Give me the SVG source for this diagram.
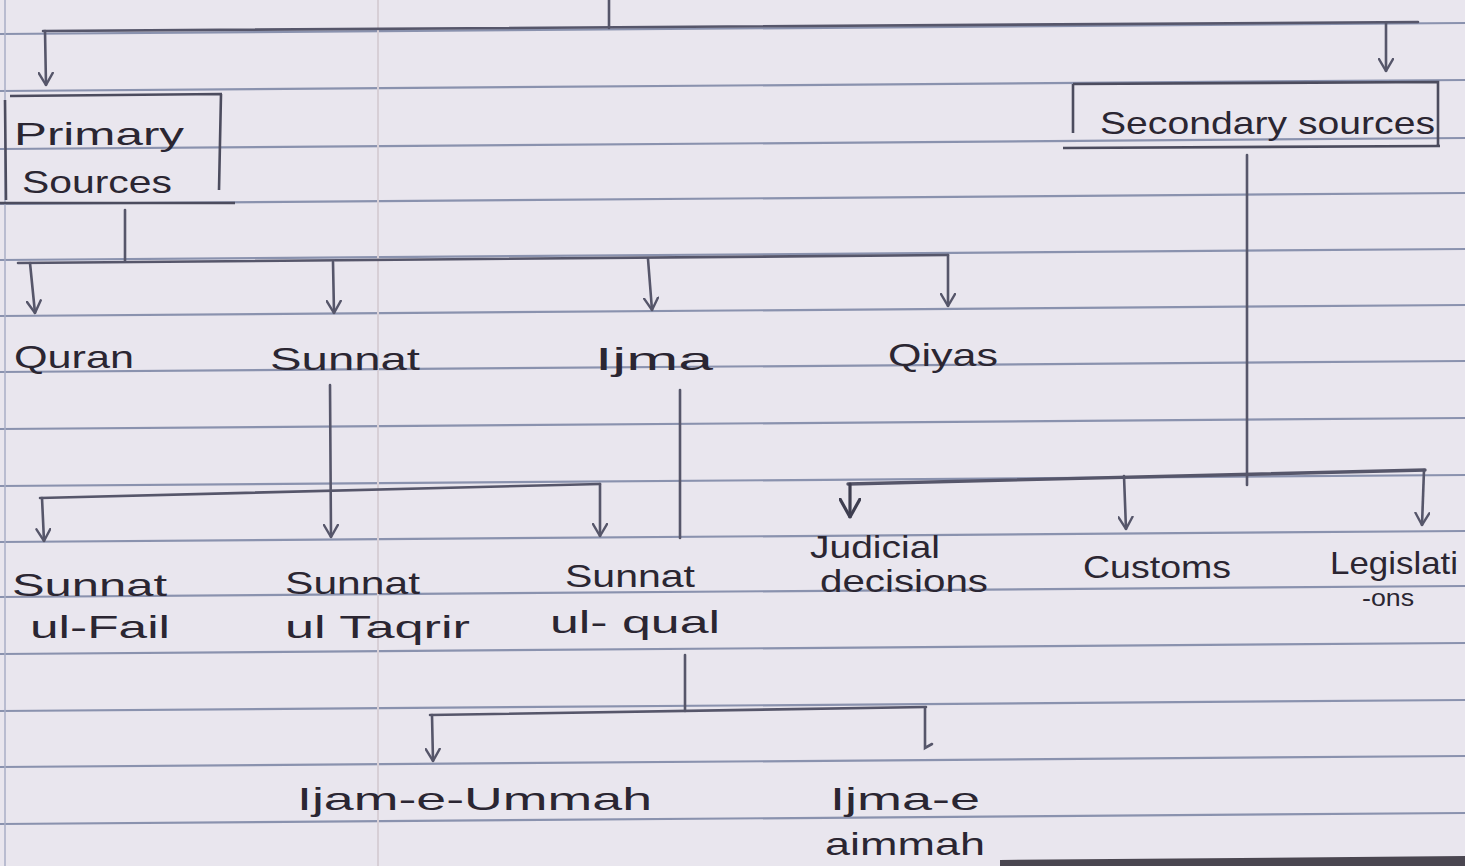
<svg xmlns="http://www.w3.org/2000/svg" width="1465" height="866" viewBox="0 0 1465 866">
<style>
.paper{fill:#e9e6ee}
.rule{stroke:#8a92ae;stroke-width:2.2;fill:none}
.margin{stroke:#a9aec6;stroke-width:1.5}
.margin2{stroke:#d7cfd6;stroke-width:2}
.c{stroke:#56566a;stroke-width:2.6;fill:none;stroke-linecap:round}
.a{stroke:#56566a;stroke-width:2.6;fill:none;stroke-linecap:round;marker-end:url(#ah)}
.ab{stroke:#3e3e50;stroke-width:3.2;fill:none;stroke-linecap:round;marker-end:url(#ahb)}
.box{stroke:#4c4c5e;stroke-width:2.6;fill:none}
.t{font-family:"Liberation Sans",Arial,sans-serif;font-size:32px;fill:#2b2632}
</style>
<defs>
<marker id="ah" viewBox="0 0 14 16" refX="13" refY="8" markerWidth="14" markerHeight="16" markerUnits="userSpaceOnUse" orient="auto">
<path d="M1,1 L13,8 L1,15" fill="none" stroke="#56566a" stroke-width="2.4" stroke-linecap="round"/>
</marker>
<marker id="ahb" viewBox="0 0 20 22" refX="19" refY="11" markerWidth="20" markerHeight="22" markerUnits="userSpaceOnUse" orient="auto">
<path d="M1,1 L19,11 L1,21" fill="none" stroke="#3e3e50" stroke-width="3.2" stroke-linecap="round"/>
</marker>
</defs>
<rect class="paper" x="0" y="0" width="1465" height="866"/>
<g id="paper-lines">
<line class="rule" x1="0" y1="34" x2="1465" y2="23"/>
<line class="rule" x1="0" y1="91" x2="1465" y2="80"/>
<line class="rule" x1="0" y1="149" x2="1465" y2="138"/>
<line class="rule" x1="0" y1="204" x2="1465" y2="193"/>
<line class="rule" x1="0" y1="260" x2="1465" y2="249"/>
<line class="rule" x1="0" y1="316" x2="1465" y2="305"/>
<line class="rule" x1="0" y1="372" x2="1465" y2="361"/>
<line class="rule" x1="0" y1="429" x2="1465" y2="418"/>
<line class="rule" x1="0" y1="486" x2="1465" y2="475"/>
<line class="rule" x1="0" y1="542" x2="1465" y2="531"/>
<line class="rule" x1="0" y1="597" x2="1465" y2="586"/>
<line class="rule" x1="0" y1="654" x2="1465" y2="643"/>
<line class="rule" x1="0" y1="711" x2="1465" y2="700"/>
<line class="rule" x1="0" y1="767" x2="1465" y2="756"/>
<line class="rule" x1="0" y1="824" x2="1465" y2="813"/>
<line class="margin" x1="5" y1="0" x2="5" y2="866"/>
<line class="margin2" x1="378" y1="0" x2="378" y2="866"/>
<path d="M1000,860 L1465,856 L1465,866 L1000,866 Z" fill="#4a4650"/>
</g>
<g id="connectors">
<line class="c" x1="609" y1="0" x2="609" y2="28"/>
<line class="c" x1="43" y1="31" x2="1418" y2="22"/>
<line class="a" x1="45" y1="31" x2="46" y2="85"/>
<line class="a" x1="1386" y1="23" x2="1386" y2="71"/>
<line class="c" x1="125" y1="210" x2="125" y2="261"/>
<line class="c" x1="18" y1="263" x2="948" y2="255"/>
<line class="a" x1="30" y1="263" x2="35" y2="313"/>
<line class="a" x1="333" y1="262" x2="334" y2="313"/>
<line class="a" x1="648" y1="259" x2="652" y2="310"/>
<line class="a" x1="948" y1="255" x2="948" y2="306"/>
<line class="a" x1="330" y1="385" x2="331" y2="537"/>
<line class="c" x1="40" y1="498" x2="600" y2="484"/>
<line class="a" x1="42" y1="498" x2="44" y2="541"/>
<line class="a" x1="600" y1="484" x2="600" y2="536"/>
<line class="c" x1="680" y1="390" x2="680" y2="538"/>
<line class="c" x1="685" y1="655" x2="685" y2="711"/>
<line class="c" x1="430" y1="715" x2="926" y2="707"/>
<line class="a" x1="432" y1="715" x2="433" y2="761"/>
<path class="c" d="M925,708 L925,748 L932,744"/>
<line class="c" x1="1247" y1="155" x2="1247" y2="485"/>
<line class="c" x1="848" y1="484" x2="1425" y2="470" style="stroke-width:3.4"/>
<line class="ab" x1="850" y1="484" x2="850" y2="517"/>
<line class="a" x1="1124" y1="476" x2="1126" y2="529"/>
<line class="a" x1="1424" y1="470" x2="1422" y2="525"/>
</g>
<g id="primary-sources">
<path class="box" d="M10,96 L222,94 M221,94 L219,190 M5,100 L6,200 M0,203 L235,203"/>
<text class="t" x="14" y="145" textLength="170" lengthAdjust="spacingAndGlyphs">Primary</text>
<text class="t" x="22" y="193" textLength="150" lengthAdjust="spacingAndGlyphs">Sources</text>
</g>
<g id="secondary-sources">
<path class="box" d="M1073,84 L1438,82 L1438,146 M1073,84 L1073,133 M1063,148 L1440,146"/>
<text class="t" x="1100" y="134" textLength="335" lengthAdjust="spacingAndGlyphs">Secondary sources</text>
</g>
<g id="quran"><text class="t" x="14" y="368" textLength="120" lengthAdjust="spacingAndGlyphs">Quran</text></g>
<g id="sunnat"><text class="t" x="270" y="370" textLength="150" lengthAdjust="spacingAndGlyphs">Sunnat</text></g>
<g id="ijma"><text class="t" x="595" y="370" textLength="118" lengthAdjust="spacingAndGlyphs">Ijma</text></g>
<g id="qiyas"><text class="t" x="888" y="366" textLength="110" lengthAdjust="spacingAndGlyphs">Qiyas</text></g>
<g id="sunnat-ul-fail">
<text class="t" x="12" y="596" textLength="155" lengthAdjust="spacingAndGlyphs">Sunnat</text>
<text class="t" x="30" y="638" textLength="140" lengthAdjust="spacingAndGlyphs">ul-Fail</text>
</g>
<g id="sunnat-ul-taqrir">
<text class="t" x="285" y="594" textLength="135" lengthAdjust="spacingAndGlyphs">Sunnat</text>
<text class="t" x="285" y="638" textLength="185" lengthAdjust="spacingAndGlyphs">ul Taqrir</text>
</g>
<g id="sunnat-ul-qual">
<text class="t" x="565" y="587" textLength="130" lengthAdjust="spacingAndGlyphs">Sunnat</text>
<text class="t" x="550" y="633" textLength="170" lengthAdjust="spacingAndGlyphs">ul- qual</text>
</g>
<g id="judicial-decisions">
<text class="t" x="810" y="558" textLength="130" lengthAdjust="spacingAndGlyphs">Judicial</text>
<text class="t" x="820" y="592" textLength="168" lengthAdjust="spacingAndGlyphs">decisions</text>
</g>
<g id="customs"><text class="t" x="1083" y="578" textLength="148" lengthAdjust="spacingAndGlyphs">Customs</text></g>
<g id="legislations">
<text class="t" x="1330" y="574" textLength="128" lengthAdjust="spacingAndGlyphs">Legislati</text>
<text class="t" x="1362" y="606" textLength="52" lengthAdjust="spacingAndGlyphs" style="font-size:24px">-ons</text>
</g>
<g id="ijma-e-ummah"><text class="t" x="297" y="810" textLength="355" lengthAdjust="spacingAndGlyphs">Ijam-e-Ummah</text></g>
<g id="ijma-e-aimmah">
<text class="t" x="830" y="810" textLength="150" lengthAdjust="spacingAndGlyphs">Ijma-e</text>
<text class="t" x="825" y="855" textLength="160" lengthAdjust="spacingAndGlyphs">aimmah</text>
</g>
</svg>
